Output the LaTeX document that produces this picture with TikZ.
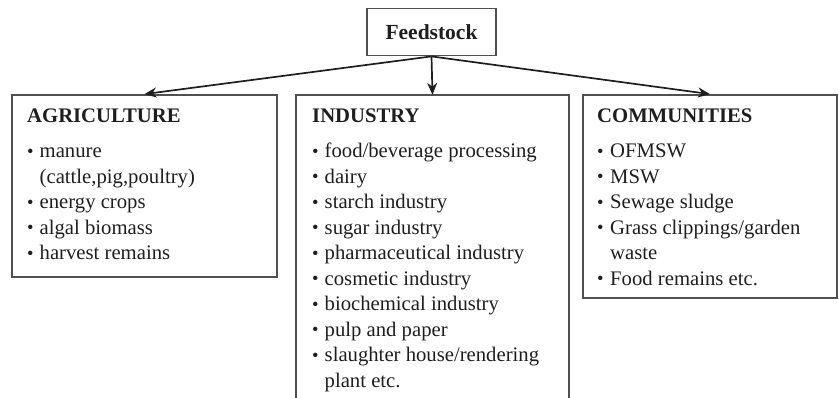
\documentclass[tikz,border=0pt]{standalone}
\usepackage{fontspec}
\setmainfont{Liberation Serif}
\usetikzlibrary{arrows.meta}
\definecolor{boxline}{HTML}{505050}
\definecolor{ink}{HTML}{1E1E1E}
\newcommand\bul{\raisebox{0.04em}{\fontsize{18.5}{18.5}\selectfont\textbullet}}
\newcommand\itemrow[1]{\bul & #1\\}
\tikzset{
  box/.style={draw=boxline, line width=1.8pt, rectangle, inner sep=0pt},
  openbox/.style={rectangle, inner sep=0pt},
  listtext/.style={anchor=base west, inner sep=0pt, text=ink,
    font=\fontsize{20.7}{25.5}\selectfont},
  conn/.style={draw=ink, line width=1.7pt, -{Stealth[length=12pt,width=10pt]}}
}
\begin{document}
\begin{tikzpicture}[x=1pt,y=-1pt]
\useasboundingbox (0,0) rectangle (839,398);
% boxes
\node[box, minimum width=129pt, minimum height=47pt] (feed) at (431.5,32) {};
\node[text=ink, font=\fontsize{21.5}{24}\selectfont\bfseries] (feedtxt) at (feed.center) {Feedstock};
\node[box, minimum width=265pt, minimum height=182pt] (agri) at (144.5,186) {};
\node[openbox, minimum width=273pt, minimum height=303pt] (ind) at (432.5,246.5) {};
\draw[draw=boxline, line width=1.8pt] (ind.south west) |- (ind.north east) -- (ind.south east);
\node[box, minimum width=254pt, minimum height=203pt] (comm) at (710,196.5) {};
% arrows
\draw[conn] (feed.south) -- (agri.north);
\draw[conn] (feed.south) -- (ind.north);
\draw[conn] (feed.south) -- (comm.north);
% texts
\node[listtext] (agritxt) at (27,123) {\begin{tabular}[t]{@{}p{12.5pt}@{}l@{}}
\multicolumn{2}{@{}l@{}}{\bfseries AGRICULTURE}\\[9.5pt]
\itemrow{manure}
 & (cattle,pig,poultry)\\
\itemrow{energy crops}
\itemrow{algal biomass}
\bul & harvest remains
\end{tabular}};
\node[listtext] (indtxt) at (312,123) {\begin{tabular}[t]{@{}p{12.5pt}@{}l@{}}
\multicolumn{2}{@{}l@{}}{\bfseries INDUSTRY}\\[9.5pt]
\itemrow{food/beverage processing}
\itemrow{dairy}
\itemrow{starch industry}
\itemrow{sugar industry}
\itemrow{pharmaceutical industry}
\itemrow{cosmetic industry}
\itemrow{biochemical industry}
\itemrow{pulp and paper}
\itemrow{slaughter house/rendering}
 & plant etc.
\end{tabular}};
\node[listtext] (commtxt) at (597,123) {\begin{tabular}[t]{@{}p{13pt}@{}l@{}}
\multicolumn{2}{@{}l@{}}{\bfseries COMMUNITIES}\\[9.5pt]
\itemrow{OFMSW}
\itemrow{MSW}
\itemrow{Sewage sludge}
\itemrow{Grass clippings/garden}
 & waste\\
\bul & Food remains etc.
\end{tabular}};
\end{tikzpicture}
\end{document}
